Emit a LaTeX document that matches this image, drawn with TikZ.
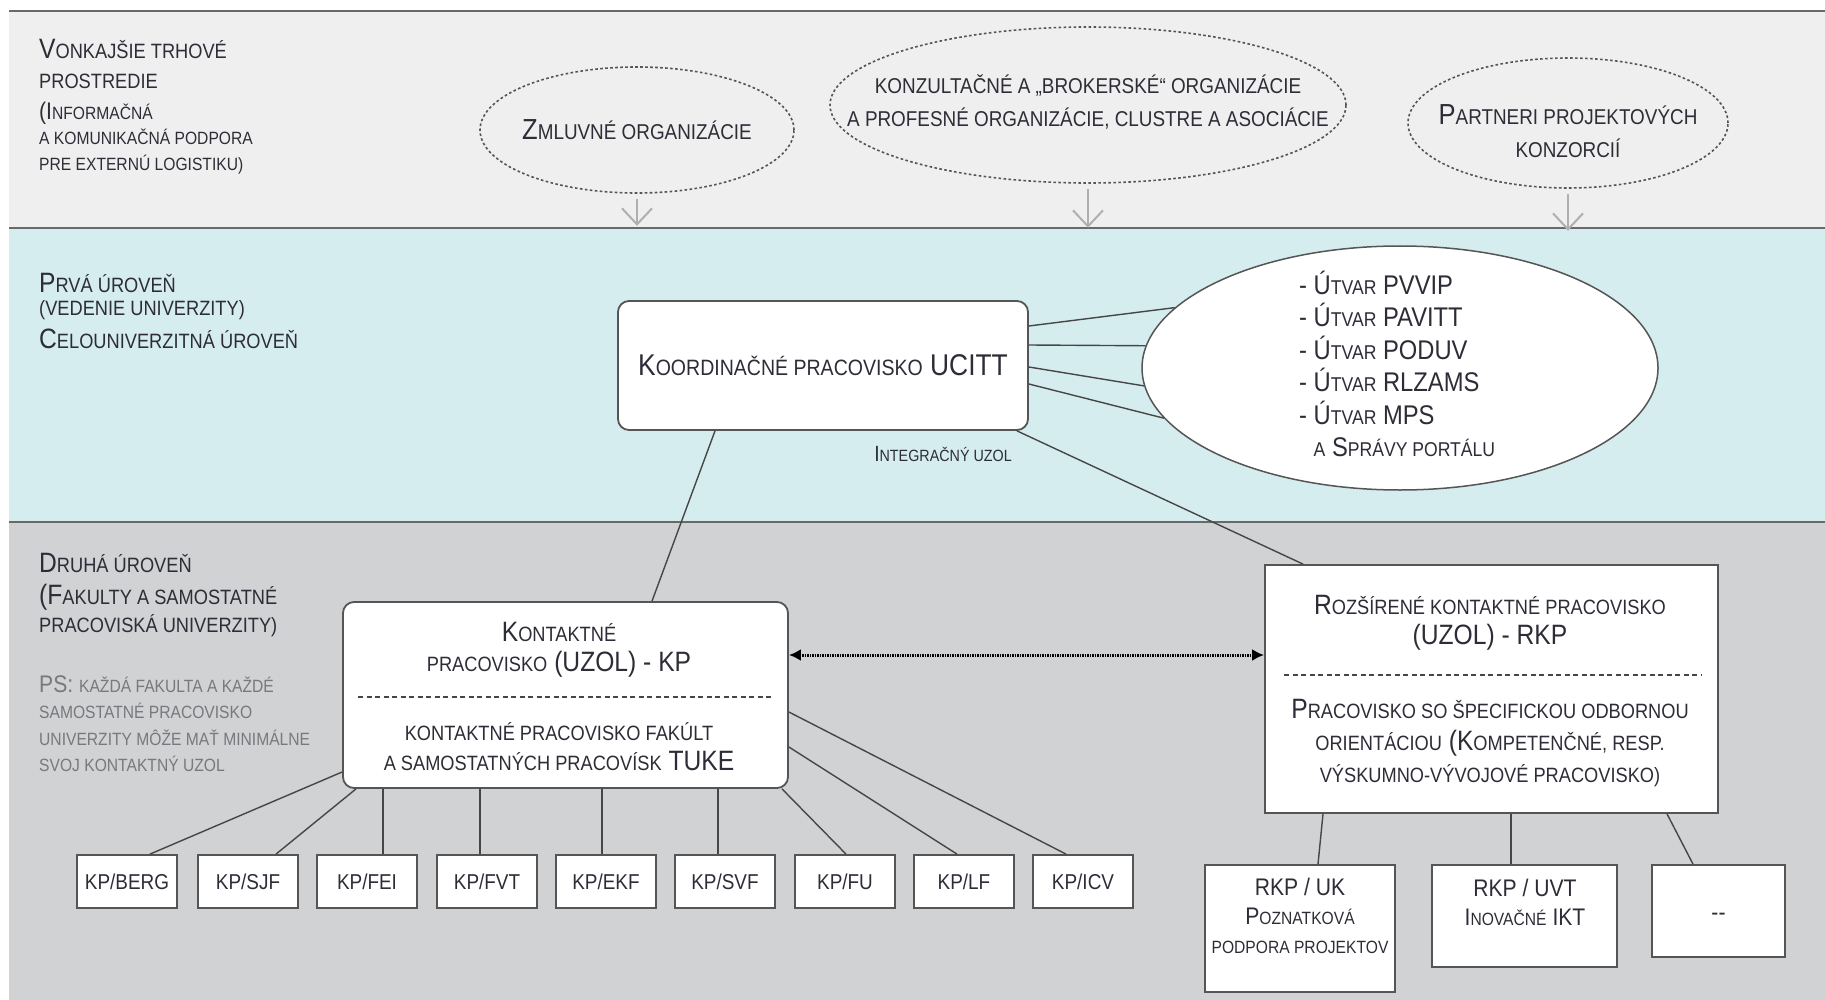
\documentclass[tikz,border=0pt]{standalone}
\usepackage{fontspec}
\setmainfont[FakeStretch=0.88]{Liberation Sans}
\usetikzlibrary{shapes.geometric,arrows.meta}
\makeatletter
\newcommand\smc[1]{{\fontsize{\fpeval{0.74*\f@size}}{\f@baselineskip}\selectfont\MakeUppercase{#1}}}
\makeatother
\definecolor{txtc}{RGB}{45,45,55}
\definecolor{psc}{RGB}{120,120,125}
\definecolor{linec}{RGB}{70,70,70}
\definecolor{boxc}{RGB}{85,85,85}
\definecolor{arrc}{RGB}{175,175,175}
\definecolor{bandline}{RGB}{105,105,105}
\definecolor{bgtop}{RGB}{239,239,239}
\definecolor{bgblue}{RGB}{214,237,240}
\definecolor{bggray}{RGB}{209,210,212}
\begin{document}
\begin{tikzpicture}[x=1pt,y=-1pt,
  lbl/.style={anchor=base west, inner sep=0, text=txtc, font=\fontsize{28}{34}\selectfont},
  lbls/.style={lbl, font=\fontsize{24}{29}\selectfont},
  pstxt/.style={lbls, text=psc},
  dell/.style={ellipse, draw=boxc, line width=1.6pt, dash pattern=on 2.6pt off 2.4pt, inner sep=0},
  etxt/.style={align=center, text=txtc, font=\fontsize{29}{33}\selectfont, inner sep=0},
  garrow/.style={draw=arrc, line width=2pt, -{Straight Barb[length=16pt,width=30pt]}},
  box/.style={draw=boxc, line width=1.8pt, fill=white, inner sep=0},
  rbox/.style={box, rounded corners=11pt},
  conn/.style={draw=linec, line width=1.4pt},
  btxt/.style={align=center, text=txtc, font=\fontsize{28}{30}\selectfont, inner sep=0},
  kpbox/.style={box, minimum width=100pt, minimum height=53pt, text=txtc, font=\fontsize{21.5}{26}\selectfont},
  sepline/.style={draw=linec, line width=1.3pt, dash pattern=on 5pt off 3.5pt},
  dbl/.style={draw=black, line width=3pt, dash pattern=on 1.5pt off 1pt, {Latex[length=12pt,width=12pt]}-{Latex[length=12pt,width=12pt]}},
  stxt/.style={align=center, text=txtc, font=\fontsize{24}{29}\selectfont, inner sep=0}
]
\useasboundingbox (0,0) rectangle (1825,1000);
% bands
\fill[bgtop] (9,11) rectangle (1825,228);
\fill[bgblue] (9,228) rectangle (1825,522);
\fill[bggray] (9,522) rectangle (1825,1000);
\draw[bandline, line width=2.5pt] (9,11) -- (1825,11);
\draw[bandline, line width=2.5pt] (9,228) -- (1825,228);
\draw[bandline, line width=2.5pt] (9,522) -- (1825,522);

% top band labels
\node[lbl] (t1) at (39,59) {V\smc{onkajšie trhové}};
\node[lbl] (t2) at (39,89) {\smc{prostredie}};
\node[lbls] (t3) at (39,120) {(I\smc{nformačná}};
\node[lbls] (t4) at (39,145) {\smc{a komunikačná podpora}};
\node[lbls] (t5) at (39,171) {\smc{pre externú logistiku)}};

% dashed ellipses
\node[dell, minimum width=314pt, minimum height=126pt] (e1) at (637,130) {};
\node[etxt] (e1t) at (e1.center) {Z\smc{mluvné organizácie}};
\node[dell, minimum width=516pt, minimum height=156pt] (e2) at (1088,105) {};
\node[etxt] (e2t) at (1088,102) {\smc{konzultačné a „brokerské“ organizácie}\\ \smc{a profesné organizácie, clustre a asociácie}};
\node[dell, minimum width=320pt, minimum height=130pt] (e3) at (1568,123) {};
\node[etxt] (e3t) at (1568,131) {P\smc{artneri projektových}\\ \smc{konzorcií}};

\draw[garrow] ([yshift=-5pt]e1.south) -- ++(0,27);
\draw[garrow] ([yshift=-5pt]e2.south) -- ++(0,39);
\draw[garrow] ([yshift=-5pt]e3.south) -- ++(0,37);

% blue band labels
\node[lbl] (p1) at (39,292) {P\smc{rvá úroveň}};
\node[lbl] (p2) at (39,316) {\smc{(vedenie univerzity)}};
\node[lbl] (p3) at (39,348) {C\smc{elouniverzitná úroveň}};

% coordination box
\node[rbox, minimum width=410pt, minimum height=129pt, text=txtc, font=\fontsize{30}{36}\selectfont] (koord) at (823,365.5) {K\smc{oordinačné pracovisko} UCITT};
\node[inner sep=0, text=txtc, font=\fontsize{22}{26}\selectfont] (integ) at (943,454) {I\smc{ntegračný uzol}};

% Utvar ellipse
\node[ellipse, draw=boxc, fill=white, line width=1.5pt, minimum width=516pt, minimum height=244pt, inner sep=0] (utv) at (1400,368) {};
\node[anchor=west, align=left, inner sep=0, text=txtc, font=\fontsize{27}{32.5}\selectfont] (utvt) at (1299,364)
 {- Ú\smc{tvar} PVVIP\\ - Ú\smc{tvar} PAVITT\\ - Ú\smc{tvar} PODUV\\ - Ú\smc{tvar} RLZAMS\\ - Ú\smc{tvar} MPS\\ \hphantom{- }\smc{a} S\smc{právy portálu}};

\draw[conn] (koord.east |- 0,326) -- (utv.165);
\draw[conn] (koord.east |- 0,345) -- (utv.175);
\draw[conn] (koord.east |- 0,367) -- (utv.184);
\draw[conn] (koord.east |- 0,384) -- (utv.192);

% gray band labels
\node[lbl] (d1) at (39,572) {D\smc{ruhá úroveň}};
\node[lbl] (d2) at (39,604) {(F\smc{akulty a samostatné}};
\node[lbl] (d3) at (39,632) {\smc{pracoviská univerzity)}};
\node[pstxt] (s1) at (39,692) {PS: \smc{každá fakulta a každé}};
\node[pstxt] (s2) at (39,718) {\smc{samostatné pracovisko}};
\node[pstxt] (s3) at (39,745) {\smc{univerzity môže mať minimálne}};
\node[pstxt] (s4) at (39,771) {\smc{svoj kontaktný uzol}};

% KP box
\node[rbox, minimum width=445pt, minimum height=186pt] (kp) at (565.5,695) {};
\node[btxt] (kpt1) at (559,650) {K\smc{ontaktné}\\ \smc{pracovisko} (UZOL) - KP};
\draw[sepline] (358,697) -- (772,697);
\node[btxt] (kpt2) at (559,747) {\smc{kontaktné pracovisko fakúlt}\\ \smc{a samostatných pracovísk} TUKE};

% RKP box
\node[box, minimum width=453pt, minimum height=248pt] (rkp) at (1491.5,689) {};
\node[btxt] (rkt1) at (1490,623) {R\smc{ozšírené kontaktné pracovisko}\\ (UZOL) - RKP};
\draw[sepline] (1284,675) -- (1702,675);
\node[btxt, font=\fontsize{28}{32}\selectfont] (rkt2) at (1490,743) {P\smc{racovisko so špecifickou odbornou}\\ \smc{orientáciou} (K\smc{ompetenčné, resp.}\\ \smc{výskumno-vývojové pracovisko)}};

% connectors from coordination box
\draw[conn] (koord.south -| 715,0) -- (kp.north -| 652,0);
\draw[conn] (koord.south -| 1017,0) -- (rkp.north -| 1303,0);
\draw[dbl] (kp.east |- 0,655) -- (rkp.west |- 0,655);

% KP sub boxes
\node[kpbox] (berg) at (127,881.5) {KP/BERG};
\node[kpbox] (sjf) at (248,881.5) {KP/SJF};
\node[kpbox] (fei) at (367,881.5) {KP/FEI};
\node[kpbox] (fvt) at (487,881.5) {KP/FVT};
\node[kpbox] (ekf) at (606,881.5) {KP/EKF};
\node[kpbox] (svf) at (725,881.5) {KP/SVF};
\node[kpbox] (fu) at (845,881.5) {KP/FU};
\node[kpbox] (lf) at (964,881.5) {KP/LF};
\node[kpbox] (icv) at (1083,881.5) {KP/ICV};

\draw[conn] (kp.west |- 0,772) -- (berg.north -| 150,0);
\draw[conn] (kp.south -| 356,0) -- (sjf.north -| 276,0);
\draw[conn] (kp.south -| 383,0) -- (fei.north -| 383,0);
\draw[conn] (kp.south -| 480,0) -- (fvt.north -| 480,0);
\draw[conn] (kp.south -| 602,0) -- (ekf.north -| 602,0);
\draw[conn] (kp.south -| 718,0) -- (svf.north -| 718,0);
\draw[conn] (kp.south -| 782,0) -- (fu.north -| 846,0);
\draw[conn] (kp.east |- 0,747) -- (lf.north -| 957,0);
\draw[conn] (kp.east |- 0,712) -- (icv.north -| 1066,0);

% RKP sub boxes
\node[box, minimum width=190pt, minimum height=127pt] (uk) at (1300,928.5) {};
\node[stxt] (ukt) at (1300,916) {RKP / UK\\ P\smc{oznatková}\\ \smc{podpora projektov}};
\node[box, minimum width=185pt, minimum height=102pt] (uvt) at (1524.5,916) {};
\node[stxt] (uvtt) at (1525,902) {RKP / UVT\\ I\smc{novačné} IKT};
\node[box, minimum width=133pt, minimum height=92pt] (dots) at (1718.5,911) {};
\node[stxt] (dotst) at ([yshift=-6pt]dots.center) {-{}-};

\draw[conn] (rkp.south -| 1323,0) -- (uk.north -| 1318,0);
\draw[conn] (rkp.south -| 1511,0) -- (uvt.north -| 1511,0);
\draw[conn] (rkp.south -| 1667,0) -- (dots.north -| 1693,0);
\end{tikzpicture}
\end{document}
